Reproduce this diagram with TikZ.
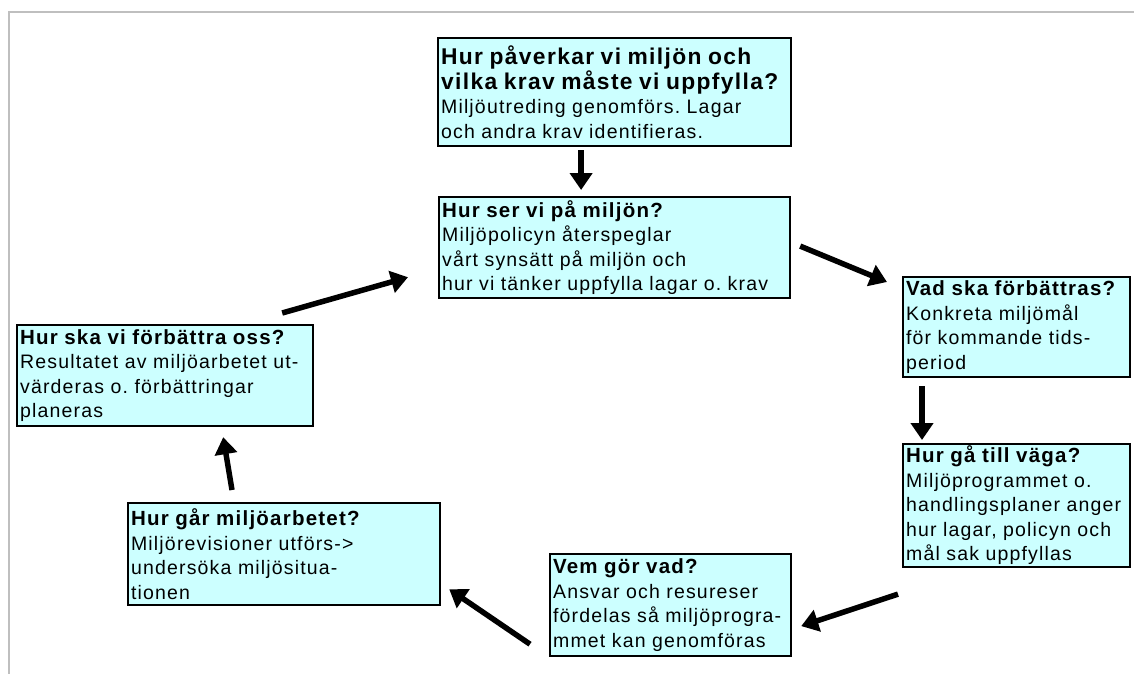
\documentclass[tikz,border=0pt]{standalone}
\usepackage{fontspec}
\setmainfont{Liberation Sans}[LetterSpace=6]
\usetikzlibrary{arrows.meta}

\newcommand{\head}[1]{{\fontsize{20.5}{24.5}\selectfont\bfseries #1}}
\newcommand{\bighead}[1]{{\fontsize{22.8}{24.5}\selectfont\bfseries #1}}
\frenchspacing

\begin{document}
\begin{tikzpicture}[x=1pt, y=-1pt,
    box/.style={draw, line width=2.2pt, fill=boxcyan, anchor=north west,
        align=left, inner xsep=3pt, inner ysep=2pt,
        font=\fontsize{19.5}{24.5}\selectfont},
    flow/.style={line width=5.5pt, -{Triangle[length=17pt, width=22pt]}}]
    \definecolor{boxcyan}{RGB}{204,255,255}
    \useasboundingbox (0,0) rectangle (1134,674);

    % Frame
    \draw[line width=1.3pt, gray!50] (1134,12) -- (9,12) -- (9,674);

    % Draw the boxes
    \node[box, text width=347pt, minimum height=108pt] (krav) at (437,37)
        {\bighead{Hur påverkar vi miljön och\\vilka krav måste vi uppfylla?}\\
         Miljöutreding genomförs. Lagar\\och andra krav identifieras.};
    \node[box, text width=345pt, minimum height=101pt] (policy) at (438,196)
        {\head{Hur ser vi på miljön?}\\Miljöpolicyn återspeglar\\
         vårt synsätt på miljön och\\hur vi tänker uppfylla lagar o. krav};
    \node[box, text width=221pt, minimum height=100pt] (mal) at (902,276)
        {\head{Vad ska förbättras?}\\Konkreta miljömål\\
         för kommande tids-\\period};
    \node[box, text width=221pt, minimum height=118pt] (program) at (902,443)
        {\head{Hur gå till väga?}\\Miljöprogrammet o.\\handlingsplaner anger\\
         hur lagar, policyn och\\mål sak uppfyllas};
    \node[box, text width=235pt, minimum height=102pt] (ansvar) at (549,553)
        {\head{Vem gör vad?}\\Ansvar och resureser\\
         fördelas så miljöprogra-\\mmet kan genomföras};
    \node[box, text width=306pt, minimum height=102pt] (revision) at (127,502)
        {\head{Hur går miljöarbetet?}\\Miljörevisioner utförs->\\
         undersöka miljösitua-\\tionen};
    \node[box, text width=290pt, minimum height=101pt] (forbattra) at (16,324)
        {\head{Hur ska vi förbättra oss?}\\Resultatet av miljöarbetet ut-\\
         värderas o. förbättringar\\planeras};

    % Draw the arrows
    \draw[flow, shorten <=3pt, shorten >=6pt]
        ([xshift=-33.5pt]krav.south) -- ([xshift=-33.5pt]policy.north);
    \draw[flow] ([xshift=9pt, yshift=1.5pt]policy.east)
        -- ([xshift=-15pt, yshift=-6pt]mal.north west);
    \draw[flow, shorten <=8pt, shorten >=3pt]
        ([xshift=20pt]mal.south west) -- ([xshift=20pt]program.north west);
    \draw[flow] ([xshift=-4pt, yshift=-26pt]program.south west)
        -- ([xshift=9pt, yshift=-21pt]ansvar.east);
    \draw[flow] ([xshift=-19pt, yshift=13pt]ansvar.south west)
        -- ([xshift=8pt, yshift=17pt]revision.south east);
    \draw[flow] ([xshift=105pt, yshift=12pt]revision.north west)
        -- ([xshift=-91pt, yshift=-10pt]forbattra.south east);
    \draw[flow] ([xshift=-32pt, yshift=11pt]forbattra.north east)
        -- ([xshift=-30pt, yshift=22pt]policy.south west);

\end{tikzpicture}
\end{document}
